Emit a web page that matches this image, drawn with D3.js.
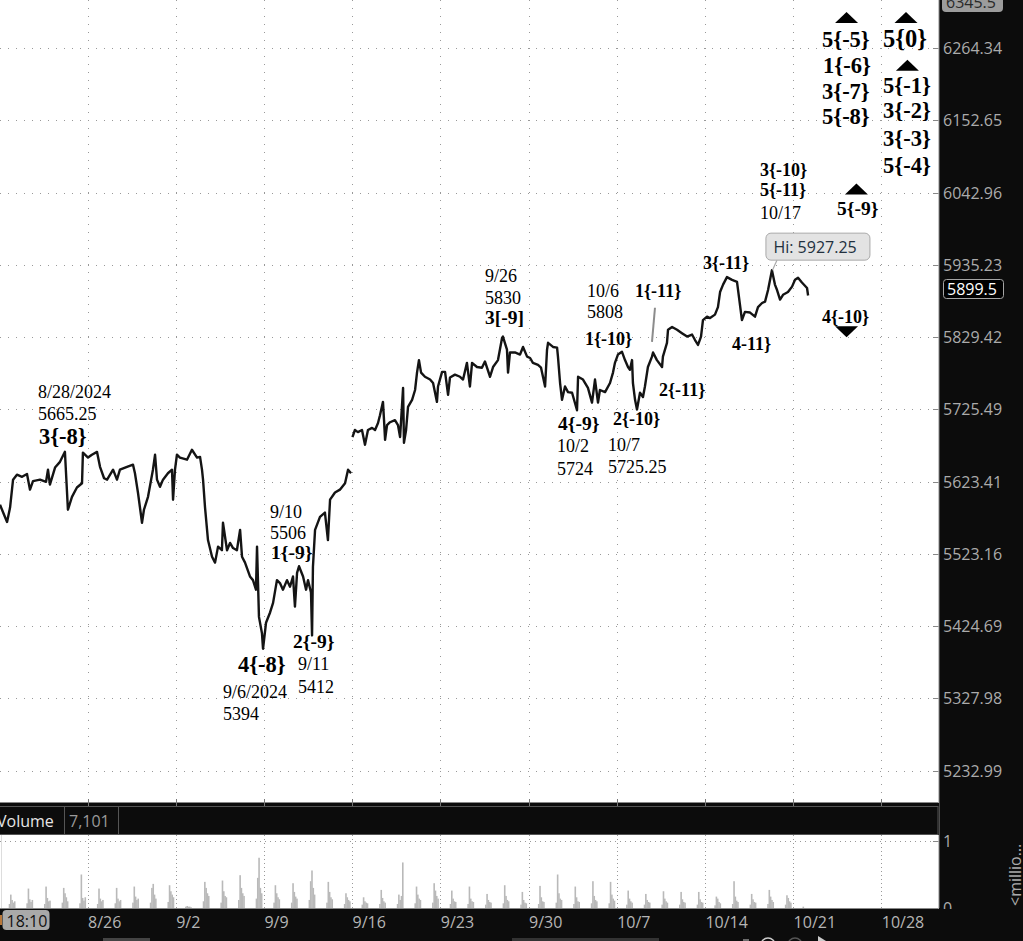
<!DOCTYPE html>
<html><head><meta charset="utf-8">
<script src="https://cdn.jsdelivr.net/npm/d3@7"></script>
<style>html,body{margin:0;padding:0;background:#fff;overflow:hidden}</style>
</head><body>
<svg id="c" width="1023" height="941"></svg>
<script>
// ---------------- data ----------------
const priceTicks = [6264.34, 6152.65, 6042.96, 5935.23, 5829.42, 5725.49, 5623.41, 5523.16, 5424.69, 5327.98, 5232.99];
const topPriceLabel = "6345.5";
const lastPrice = 5899.5;
const weekDays = [5, 10, 15, 20, 25, 30, 35, 40, 45, 50];
const weekLabels = ["8/26", "9/2", "9/9", "9/16", "9/23", "9/30", "10/7", "10/14", "10/21", "10/28"];
const cursorTime = "18:10";
const volumeTitle = "Volume";
const volumeValue = "7,101";
const volTicks = [1, 0];
const volUnit = "<millio\u2026";

// trading-day offset from 8/19 session (fractional) and price; null = session gap
const tDay = [
0.04,0.27,0.44,0.61,0.78,1.00,1.29,1.57,1.74,1.91,2.31,2.65,2.76,2.87,3.16,3.44,3.72,3.89,4.12,4.40,4.69,4.74,
5.03,5.25,5.54,5.71,5.94,6.11,6.45,6.67,6.84,7.24,7.58,7.69,7.86,8.09,8.20,8.43,8.71,8.83,8.94,9.11,9.28,9.56,9.79,9.85,9.96,
10.07,10.24,10.64,10.92,11.21,11.38,11.49,11.55,11.66,11.83,12.06,12.23,12.40,12.62,12.68,12.91,13.08,13.25,13.47,13.65,13.76,13.93,
14.21,14.38,14.55,14.61,14.72,14.89,14.95,15.12,15.35,15.52,15.74,15.91,16.08,16.31,16.48,16.65,16.76,16.88,16.99,17.22,17.39,17.50,
17.67,17.73,17.78,17.90,18.18,18.46,18.63,18.75,19.03,19.31,19.60,19.77,19.94,
19.98,
20.02,20.16,20.33,20.56,20.73,20.90,21.13,21.30,21.47,21.58,21.75,21.81,21.87,21.98,22.15,22.43,22.60,22.72,22.89,22.94,23.06,23.17,
23.40,23.57,23.68,23.79,23.91,24.13,24.42,24.59,24.81,24.87,25.10,25.27,25.44,25.55,25.83,26.12,26.29,26.51,26.68,26.80,27.08,27.36,
27.53,27.82,27.99,28.27,28.50,28.55,28.78,28.84,28.95,29.23,29.52,29.69,29.92,30.09,30.25,30.54,30.71,30.94,31.05,31.11,31.39,31.62,
31.67,31.79,31.90,32.07,32.24,32.47,32.75,32.81,33.09,33.37,33.60,33.77,33.94,34.05,34.34,34.62,34.79,34.90,35.07,35.30,35.47,35.64,
35.75,35.87,35.92,36.04,36.15,36.32,36.49,36.60,36.77,37.00,37.06,37.28,37.57,37.62,37.85,37.91,38.14,38.42,38.70,38.99,39.27,39.44,
39.61,39.78,39.89,40.12,40.29,40.57,40.74,40.86,41.03,41.25,41.54,41.82,41.93,42.10,42.27,42.56,42.84,43.01,43.24,43.41,43.58,43.80,
43.97,44.09,44.26,44.43,44.71,44.94,45.11,45.28,45.50,45.79,45.85
];
const price = [
5591,5577,5567,5587,5626,5633,5630,5634,5612,5624,5626,5623,5640,5619,5643,5651,5665.25,5584,5602,5615,5621,5664,
5657,5661,5665,5644,5628,5626,5640,5626,5640,5644,5647,5635,5608,5566,5584,5602,5640,5661,5626,5616,5626,5635,5640,5598,5640,
5661,5657,5654,5668,5657,5658,5640,5626,5588,5542,5519,5511,5533,5528,5566,5528,5538,5531,5528,5556,5519,5511,
5492,5487,5474,5533,5437,5415,5394,5429,5443,5456,5487,5483,5474,5487,5478,5492,5451,5497,5506,5492,5474,5487,
5470,5412,5505,5556,5574,5580,5542,5598,5608,5612,5621,5640,5635,
null,
5686,5696,5693,5696,5675,5696,5699,5696,5706,5717,5736,5710,5682,5703,5707,5710,5703,5686,5756,5678,5696,5729,
5739,5753,5778,5796,5778,5772,5768,5763,5736,5758,5779,5779,5746,5771,5775,5772,5768,5792,5758,5792,5786,5785,
5794,5772,5786,5796,5828,5830,5811,5778,5807,5807,5804,5815,5801,5799,5792,5789,5785,5758,5811,5821,5815,5814,
5801,5763,5739,5758,5750,5749,5724,5772,5768,5756,5735,5768,5735,5753,5750,5763,5778,5792,5804,5808,5796,5786,
5782,5796,5763,5739,5725.25,5749,5743,5758,5786,5801,5807,5796,5786,5801,5821,5840,5844,5840,5835,5830,5833,5825,
5818,5830,5854,5859,5857,5862,5873,5895,5906,5917,5913,5910,5888,5854,5866,5865,5859,5873,5879,5881,5898,5927.25,
5906,5898,5884,5891,5895,5903,5913,5916,5909,5901,5890
];

// volume (millions): per trading day, bars at these session hours (23h session)
const volHours = [13.3, 15.0, 16.7, 18.4, 20.1];
const volBars = [
[0.06,0.20,0.12,0.08,0.10],[0.07,0.29,0.13,0.09,0.12],[0.06,0.32,0.15,0.10,0.11],[0.08,0.30,0.22,0.16,0.10],
[0.07,0.50,0.15,0.11,0.16],[0.06,0.29,0.14,0.10,0.12],[0.07,0.30,0.14,0.10,0.12],[0.08,0.32,0.17,0.12,0.14],
[0.08,0.30,0.36,0.20,0.14],[0.09,0.34,0.25,0.20,0.16],[0.02,0.03,0.02,0.02,0.01],[0.10,0.39,0.30,0.22,0.18],
[0.08,0.41,0.25,0.18,0.16],[0.12,0.49,0.30,0.22,0.18],[0.14,0.45,0.75,0.30,0.22],[0.08,0.34,0.22,0.16,0.13],
[0.08,0.37,0.24,0.17,0.14],[0.12,0.40,0.56,0.30,0.20],[0.08,0.39,0.24,0.16,0.13],[0.06,0.22,0.16,0.12,0.10],
[0.05,0.16,0.10,0.08,0.07],[0.06,0.27,0.15,0.10,0.08],[0.06,0.20,0.12,0.18,0.68],[0.07,0.32,0.20,0.14,0.12],
[0.08,0.37,0.26,0.18,0.14],[0.06,0.26,0.14,0.10,0.09],[0.06,0.32,0.14,0.10,0.09],[0.05,0.21,0.12,0.09,0.08],
[0.07,0.34,0.18,0.12,0.10],[0.05,0.24,0.12,0.08,0.07],[0.06,0.33,0.16,0.10,0.09],[0.08,0.50,0.22,0.14,0.12],
[0.06,0.32,0.16,0.10,0.09],[0.07,0.40,0.18,0.12,0.10],[0.07,0.39,0.20,0.14,0.11],[0.05,0.26,0.14,0.10,0.08],
[0.05,0.21,0.12,0.09,0.08],[0.05,0.25,0.14,0.10,0.08],[0.05,0.24,0.13,0.09,0.08],[0.05,0.24,0.13,0.09,0.08],
[0.04,0.17,0.14,0.09,0.07],[0.06,0.40,0.17,0.11,0.09],[0.05,0.21,0.13,0.09,0.08],[0.06,0.27,0.17,0.12,0.09],
[0.05,0.19,0.15,0.10,0.08],[0.02,0,0,0,0]
];

// wave annotations: text, day, price (baseline-left), style
const labels = [
["8/28/2024",2.19,5741.3,"r"],["5665.25",2.19,5710.3,"r"],["3{-8}",2.25,5676.4,"b22"],
["9/10",15.35,5573.0,"r"],["5506",15.35,5543.5,"r"],["1{-9}",15.40,5516.0,"b19"],
["2{-9}",16.65,5395.1,"b19"],["9/11",16.93,5365.6,"r"],["5412",16.93,5334.7,"r"],
["4{-8}",13.53,5363.0,"b22"],["9/6/2024",12.68,5328.0,"r"],["5394",12.68,5298.7,"r"],
["9/26",27.53,5909.5,"r"],["5830",27.53,5877.8,"r"],["3[-9]",27.53,5848.6,"b19"],
["10/6",33.32,5888.0,"r"],["5808",33.32,5857.4,"r"],["1{-10}",33.20,5818.0,"b17"],
["1{-11}",36.04,5888.0,"b17"],["2{-11}",37.40,5744.6,"b17"],["4{-9}",31.67,5696.2,"b19"],
["2{-10}",34.79,5703.2,"b17"],["10/2",31.62,5665.1,"r"],["5724",31.62,5632.6,"r"],
["10/7",34.51,5666.5,"r"],["5725.25",34.51,5635.4,"r"],["4-11}",41.54,5810.8,"b17"],
["3{-11}",39.89,5929.0,"b17"],["3{-10}",43.12,6067.5,"b17"],["5{-11}",43.12,6037.8,"b17"],
["10/17",43.12,6003.6,"r"],["5{-9}",47.49,6009.9,"b19"],["4{-10}",46.64,5850.0,"b17"],
["5{-5}",46.64,6265.9,"b22"],["1{-6}",46.70,6225.7,"b22"],["3{-7}",46.64,6185.5,"b22"],["5{-8}",46.64,6147.0,"b22"],
["5{0}",50.10,6265.9,"b24"],["5{-1}",50.10,6194.8,"b22"],["3{-2}",50.10,6156.1,"b22"],
["3{-3}",50.10,6113.7,"b22"],["5{-4}",50.10,6071.9,"b22"]
];
const triangles = [[48.03,6311.9,"up"],[51.40,6311.9,"up"],[51.48,6237.3,"up"],[48.59,6048.2,"up"],[48.03,5836.9,"down"]];
const hiDay = 43.80, hiPrice = 5927.25;
const markLine = [[37.17,5872.0],[37.00,5822.3]];

// ---------------- drawing ----------------
const W = 1023, H = 941, PR = 938.5;
const svg = d3.select("#c");
const x = d3.scaleLinear().domain([0, 50]).range([-0.7, 881.3]);
const y = d3.scaleLog().domain([5232.99, 6264.34]).range([770.5, 48]);
const yv = d3.scaleLinear().domain([0, 1]).range([908, 841]);
const SANS = "'Open Sans', 'Noto Sans', sans-serif";
const SERIF = "'Liberation Serif', 'Times New Roman', serif";

const defs = svg.append("defs");
defs.append("clipPath").attr("id","cp").append("rect").attr("x",0).attr("y",0).attr("width",PR).attr("height",802);
defs.append("clipPath").attr("id","cv").append("rect").attr("x",0).attr("y",835).attr("width",PR).attr("height",73);

svg.append("rect").attr("width",W).attr("height",H).attr("fill","#fff");

// price grid
const gp = svg.append("g").attr("clip-path","url(#cp)");
gp.selectAll("line.h").data(priceTicks).join("line").attr("class","h")
  .attr("x1",0).attr("x2",PR).attr("y1",d=>Math.round(y(d))+0.5).attr("y2",d=>Math.round(y(d))+0.5)
  .attr("stroke","#999").attr("stroke-dasharray","1,7");
gp.selectAll("line.v").data(weekDays).join("line").attr("class","v")
  .attr("x1",d=>Math.round(x(d))+0.5).attr("x2",d=>Math.round(x(d))+0.5).attr("y1",0).attr("y2",802)
  .attr("stroke","#999").attr("stroke-dasharray","1,7");

// price line
const pts = tDay.map((t,i)=>({t, p: price[i]}));
gp.append("path").datum(pts)
  .attr("d", d3.line().defined(d=>d.p!=null).x(d=>x(d.t)).y(d=>y(d.p)))
  .attr("fill","none").attr("stroke","#141414").attr("stroke-width",2.4).attr("stroke-linejoin","round");

// marker line
gp.append("line").attr("x1",x(markLine[0][0])).attr("y1",y(markLine[0][1]))
  .attr("x2",x(markLine[1][0])).attr("y2",y(markLine[1][1])).attr("stroke","#8c8c8c").attr("stroke-width",2);

// hi bubble
const hx = x(hiDay), hy = y(hiPrice);
gp.append("line").attr("x1",hx+5).attr("y1",hy-10).attr("x2",hx+0.5).attr("y2",hy).attr("stroke","#aaa").attr("stroke-width",1.2);
gp.append("rect").attr("x",hx-6).attr("y",hy-37).attr("width",104).attr("height",27).attr("rx",5)
  .attr("fill","#e3e3e3").attr("stroke","#a9a9a9");
gp.append("text").attr("x",hx+1.5).attr("y",hy-17).attr("font-family",SANS).attr("font-size",16)
  .attr("fill","#22303e").text("Hi: " + hiPrice.toFixed(2));

// annotations
const styles = {
  r:{size:18, weight:"normal"}, b17:{size:18, weight:"bold"}, b19:{size:19.5, weight:"bold"},
  b22:{size:22.5, weight:"bold"}, b24:{size:24.5, weight:"bold"}
};
gp.selectAll("text.ann").data(labels).join("text").attr("class","ann")
  .attr("x",d=>x(d[1])).attr("y",d=>y(d[2]))
  .attr("font-family",SERIF).attr("font-size",d=>styles[d[3]].size).attr("font-weight",d=>styles[d[3]].weight)
  .attr("fill","#000").text(d=>d[0]);

gp.selectAll("path.tri").data(triangles).join("path").attr("class","tri")
  .attr("d",d=>{
    const cx = x(d[0]), cy = y(d[1]);
    return d[2]==="up" ? `M${cx-11.5},${cy+5.5}L${cx+11.5},${cy+5.5}L${cx},${cy-5.5}Z`
                       : `M${cx-11.5},${cy-5.5}L${cx+11.5},${cy-5.5}L${cx},${cy+5.5}Z`;
  }).attr("fill","#000");

// bottom border of price panel
svg.append("line").attr("x1",0).attr("x2",PR).attr("y1",802.5).attr("y2",802.5).attr("stroke","#888");

// volume panel
const gv = svg.append("g").attr("clip-path","url(#cv)");
gv.append("line").attr("x1",0).attr("x2",PR).attr("y1",Math.round(yv(1))+0.5).attr("y2",Math.round(yv(1))+0.5)
  .attr("stroke","#999").attr("stroke-dasharray","1,4");
gv.selectAll("line.v").data(weekDays).join("line").attr("class","v")
  .attr("x1",d=>Math.round(x(d))+0.5).attr("x2",d=>Math.round(x(d))+0.5).attr("y1",835).attr("y2",908)
  .attr("stroke","#999").attr("stroke-dasharray","1,3");
gv.append("line").attr("x1",1.5).attr("x2",1.5).attr("y1",835).attr("y2",908).attr("stroke","#ddd");
const vdata = [];
volBars.forEach((vals,d)=>vals.forEach((v,i)=>{ if (v>0) vdata.push({t: d + volHours[i]/23, v}); }));
gv.selectAll("rect.vb").data(vdata).join("rect").attr("class","vb")
  .attr("x",d=>x(d.t)-0.8).attr("width",1.6).attr("y",d=>yv(d.v)).attr("height",d=>yv(0)-yv(d.v))
  .attr("fill","#b9b9b9");
svg.append("line").attr("x1",0).attr("x2",PR).attr("y1",908.5).attr("y2",908.5).attr("stroke","#888");

// right axis panel
svg.append("rect").attr("x",PR+0.5).attr("y",0).attr("width",W-PR).attr("height",H).attr("fill","#0c0c0c");
svg.append("line").attr("x1",PR+0.5).attr("x2",PR+0.5).attr("y1",0).attr("y2",908).attr("stroke","#8a8a8a");
svg.selectAll("line.pt").data(priceTicks).join("line").attr("class","pt")
  .attr("x1",933).attr("x2",PR).attr("y1",d=>Math.round(y(d))+0.5).attr("y2",d=>Math.round(y(d))+0.5).attr("stroke","#888");
svg.selectAll("text.pl").data(priceTicks).join("text").attr("class","pl")
  .attr("x",943).attr("y",d=>y(d)+6).attr("font-family",SANS).attr("font-size",16).attr("fill","#ababab")
  .text(d=>d.toFixed(2));
svg.append("rect").attr("x",942).attr("y",-12).attr("width",61).attr("height",24).attr("rx",4).attr("fill","#9c9c9c");
svg.append("text").attr("x",946).attr("y",8).attr("font-family",SANS).attr("font-size",16).attr("fill","#2a2a2a").text(topPriceLabel);
const ly = y(lastPrice);
svg.append("rect").attr("x",943.5).attr("y",ly-9.5).attr("width",60).attr("height",19).attr("rx",3)
  .attr("fill","#000").attr("stroke","#a5a5a5");
svg.append("text").attr("x",947).attr("y",ly+5.5).attr("font-family",SANS).attr("font-size",16).attr("fill","#fff").text(lastPrice.toFixed(1));

// volume axis labels
svg.selectAll("line.vt").data(volTicks).join("line").attr("class","vt")
  .attr("x1",933).attr("x2",PR).attr("y1",d=>Math.round(yv(d))+0.5).attr("y2",d=>Math.round(yv(d))+0.5).attr("stroke","#888");
svg.selectAll("text.vl").data(volTicks).join("text").attr("class","vl")
  .attr("x",943).attr("y",d=>yv(d)+6).attr("font-family",SANS).attr("font-size",16).attr("fill","#ababab").text(d=>d);
svg.append("text").attr("transform","translate(1021,906) rotate(-90)").attr("font-family",SANS).attr("font-size",16)
  .attr("fill","#ababab").text(volUnit);

// volume header bar
svg.append("rect").attr("x",0).attr("y",803).attr("width",PR+0.5).attr("height",32).attr("fill","#0c0c0c");
svg.append("rect").attr("x",-1).attr("y",806.5).attr("width",PR+0.5).attr("height",28).attr("fill","none").attr("stroke","#555");
[64.5,118.5].forEach(v=>svg.append("line").attr("x1",v).attr("x2",v).attr("y1",807).attr("y2",834).attr("stroke","#555"));
svg.append("text").attr("x",-3).attr("y",827).attr("font-family",SANS).attr("font-size",16).attr("fill","#e6e6e6").text(volumeTitle);
svg.append("text").attr("x",69).attr("y",827).attr("font-family",SANS).attr("font-size",16).attr("fill","#9a9a9a").text(volumeValue);
svg.selectAll("line.wt").data(weekDays).join("line").attr("class","wt")
  .attr("x1",d=>Math.round(x(d))+0.5).attr("x2",d=>Math.round(x(d))+0.5).attr("y1",799).attr("y2",806).attr("stroke","#777");

// bottom time axis band
svg.append("rect").attr("x",0).attr("y",909).attr("width",W).attr("height",H-909).attr("fill","#0c0c0c");
svg.selectAll("text.wl").data(weekDays).join("text").attr("class","wl")
  .attr("x",d=>x(d)+0.5).attr("y",928).attr("font-family",SANS).attr("font-size",16).attr("fill","#b5b5b5")
  .text((d,i)=>weekLabels[i]);
svg.append("rect").attr("x",2.5).attr("y",910).attr("width",47).attr("height",20).attr("rx",4).attr("fill","#a9a9a9");
svg.append("text").attr("x",6.5).attr("y",926.5).attr("font-family",SANS).attr("font-size",16).attr("fill","#111").text(cursorTime);
svg.append("rect").attr("x",0).attr("y",915).attr("width",2).attr("height",10).attr("fill","#b8773a");
// scrollbar hints
svg.append("rect").attr("x",103).attr("y",938).attr("width",47).attr("height",4).attr("fill","#444");
svg.append("rect").attr("x",512).attr("y",938).attr("width",147).attr("height",4).attr("fill","#333");
svg.append("circle").attr("cx",768).attr("cy",945).attr("r",7).attr("fill","none").attr("stroke","#ccc").attr("stroke-width",1.5);
svg.append("circle").attr("cx",795).attr("cy",945).attr("r",7).attr("fill","none").attr("stroke","#555").attr("stroke-width",1.5);
svg.append("path").attr("d","M818,936 L826,941 L818,941 Z").attr("fill","#ccc");
svg.append("line").attr("x1",743).attr("x2",749).attr("y1",940).attr("y2",940).attr("stroke","#ccc");
</script>
</body></html>
